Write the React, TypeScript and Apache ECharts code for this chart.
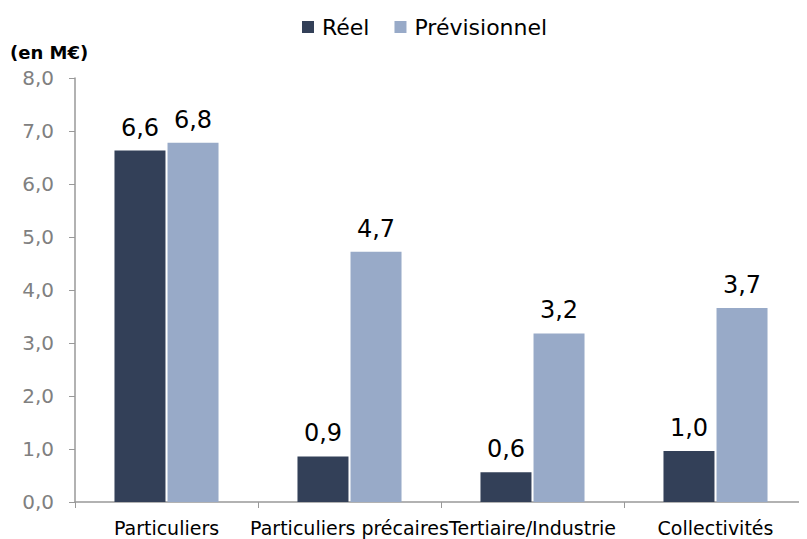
import React, { useEffect, useRef } from "react";
import * as echarts from "echarts";

const categories = ["Particuliers", "Particuliers précaires", "Tertiaire/Industrie", "Collectivités"];
const reel = [6.63, 0.86, 0.56, 0.96];
const previsionnel = [6.78, 4.72, 3.18, 3.66];
const seriesNames = ["Réel", "Prévisionnel"];

const fmt = (v: number) => v.toFixed(1).replace(".", ",");

export default function App() {
  const ref = useRef<HTMLDivElement>(null);
  useEffect(() => {
    if (!ref.current) return;
    const chart = echarts.init(ref.current, null, { renderer: "svg" });
    const font = "'DejaVu Sans', Verdana, sans-serif";
    chart.setOption({
      animation: false,
      textStyle: { fontFamily: font },
      legend: {
        top: 3,
        left: 289,
        itemWidth: 12,
        itemHeight: 12,
        itemGap: 25,
        icon: "rect",
        textStyle: { fontSize: 22, color: "#000", fontFamily: font, padding: [0, 0, 0, 3] },
        data: seriesNames,
      },
      graphic: [
        {
          type: "text",
          left: 2,
          top: 35,
          style: { text: "(en M€)", fontSize: 18, fontWeight: "bold", fill: "#000", fontFamily: font },
        },
      ],
      grid: { left: 67, top: 70, bottom: 37, right: -6, containLabel: false },
      xAxis: {
        type: "category",
        data: categories,
        axisLine: { lineStyle: { color: "#999", width: 1.5 } },
        axisTick: { show: true, length: 6, lineStyle: { color: "#999" } },
        axisLabel: { color: "#000", fontSize: 19, margin: 16, interval: 0 },
      },
      yAxis: {
        type: "value",
        min: 0,
        max: 8,
        interval: 1,
        splitLine: { show: false },
        axisLine: { show: true, lineStyle: { color: "#999", width: 1.5 } },
        axisTick: { show: true, length: 6, lineStyle: { color: "#999" } },
        axisLabel: { color: "#808080", fontSize: 20, margin: 21, formatter: (v: number) => fmt(v) },
      },
      series: [
        {
          name: seriesNames[0],
          type: "bar",
          data: reel,
          barWidth: 51,
          barGap: "4%",
          itemStyle: { color: "#334058" },
          label: { show: true, position: "top", distance: 11, color: "#000", fontSize: 24, formatter: (p: any) => fmt(p.value) },
        },
        {
          name: seriesNames[1],
          type: "bar",
          data: previsionnel,
          barWidth: 51,
          barGap: "4%",
          itemStyle: { color: "#98aac8" },
          label: { show: true, position: "top", distance: 11, color: "#000", fontSize: 24, formatter: (p: any) => fmt(p.value) },
        },
      ],
    });
    return () => chart.dispose();
  }, []);
  return <div ref={ref} style={{ width: 799, height: 531 }} />;
}
